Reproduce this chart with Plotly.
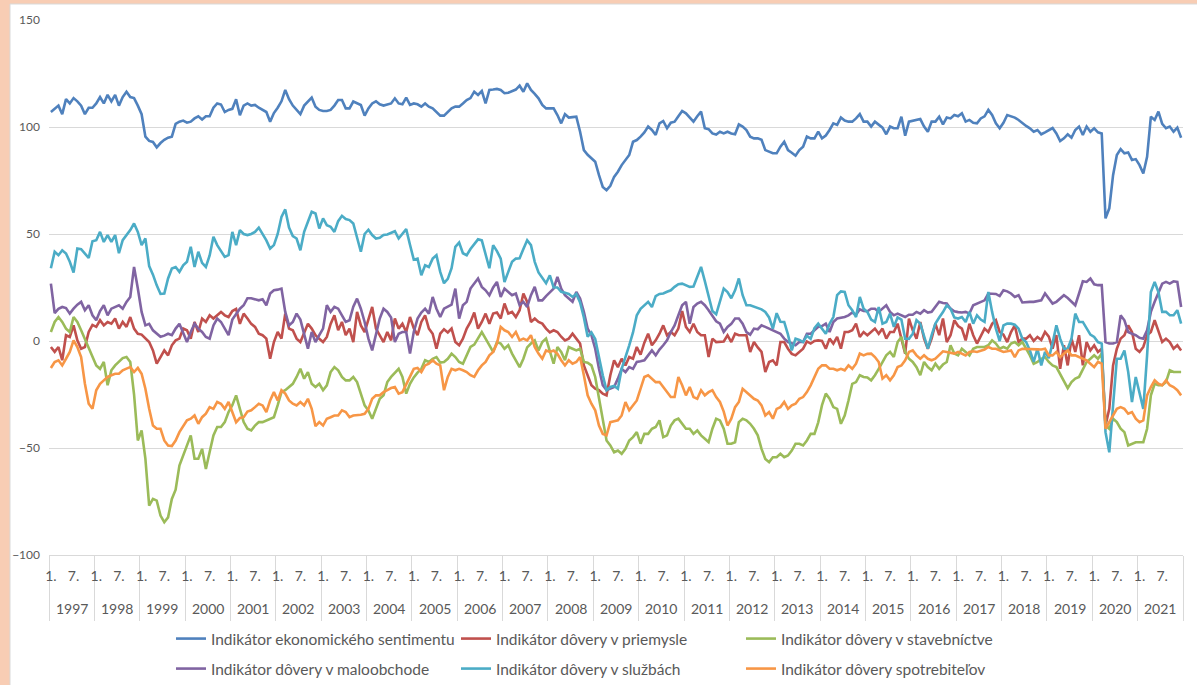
import plotly.graph_objects as go

# ---------------- data (monthly, Jan 1997 - Dec 2021) ----------------
years = list(range(1997, 2022))
month_tick_labels = ["1.", "7."]

series_names = [
    "Indikátor ekonomického sentimentu",
    "Indikátor dôvery v priemysle",
    "Indikátor dôvery v stavebníctve",
    "Indikátor dôvery v maloobchode",
    "Indikátor dôvery v službách",
    "Indikátor dôvery spotrebiteľov",
]

esi = [
    107, 108.5, 110, 106, 113, 111, 113.5, 112, 110, 106, 109, 109,
    111, 114, 111, 115, 112, 115, 110, 114, 116.5, 114, 113.5, 110,
    106, 95.5, 93.5, 93, 90.5, 92.5, 94, 95, 95.5, 101.5, 102.5, 103,
    102, 102.5, 104, 105, 103.5, 105, 105, 109, 111, 110.5, 107, 108,
    108.5, 113, 105.5, 110, 111, 110, 110.3, 109, 108, 107, 102.5, 106.5,
    109, 112, 117.3, 113, 110, 108, 106, 110, 112, 113.7, 109.5, 108,
    107.5, 107.5, 108, 110, 112.6, 112.6, 108.7, 108.7, 111.9, 111, 110.3, 105.3,
    108.7, 111, 112, 110.6, 110, 110.5, 111, 113.4, 111, 110.6, 113.7, 110.3,
    111, 110.6, 109.5, 111, 109.5, 108.7, 107, 105.3, 105.3, 107, 108.7, 109.5,
    109.5, 111, 112.6, 113.5, 116.5, 115, 116.8, 111, 117.3, 117.5, 117.8, 117.3,
    115.8, 116, 116.8, 117.5, 119.3, 116.5, 120.4, 117.3, 115.5, 113.4, 110.3, 108.7,
    108.7, 108.7, 105.6, 101.7, 106, 104.4, 104.6, 104.8, 97.8, 89.2, 87, 85.3,
    83.8, 77.5, 72, 70.5, 72.5, 76.7, 79.1, 82.2, 84.5, 86.9, 93.1, 93.9,
    95.5, 97.5, 100.2, 98.6, 96.3, 101.7, 102.8, 99.4, 102, 102.5, 105, 107.5,
    106.4, 104.4, 102.5, 105, 107.2, 99.4, 99, 97, 96.5, 97.8, 97, 97.8,
    97, 96.6, 101.2, 100.2, 98.6, 95.5, 94.7, 94.7, 94, 89.2, 88.5, 87.7,
    87.7, 90.8, 93.1, 89.2, 88, 86.6, 89.2, 90.8, 95.5, 94.7, 94.7, 97.8,
    94.7, 96, 98.6, 101.7, 101, 104.4, 103, 102.5, 102.5, 104, 106, 102.5,
    102.5, 100.2, 102.5, 101, 99.7, 96.6, 100.2, 99.4, 99.4, 104.8, 95.9, 102.5,
    103, 103.3, 103.7, 100.2, 97.8, 102.5, 102.5, 104.8, 101.2, 104.4, 104, 105.6,
    105, 106.4, 102.5, 103.3, 102, 101.7, 104, 105, 108, 105.6, 101.7, 99.4,
    102, 105.6, 105, 104.4, 103.3, 101.7, 100.5, 99.4, 97.8, 98.6, 96.6, 97.5,
    98.6, 99.5, 97, 93.4, 94.7, 96.6, 95, 98.6, 100.2, 96.3, 100.2, 97.8,
    99.4, 97.5, 97, 57.3, 62, 77.5, 86.9, 89.7, 87.7, 88.1, 84.6, 85,
    82.2, 78.3, 86.1, 104.8, 103.3, 107.2, 101.5, 99.4, 100.2, 97.8, 99.7, 95,
]

industry = [
    -2.8, -5.1, -2.8, -9, 2.7, 1.9, 7.3, 0.3, -3.6, -2.8, 4.2, 7.5,
    6.6, 9.7, 7.3, 8.9, 8.1, 10.5, 5.8, 8.9, 6.6, 11.2, 5.8, 3.4,
    3, 1.1, -0.5, -4.4, -10.6, -7.5, -4.4, -6.7, -2, 0.3, 1.1, 5.8,
    5, 1.1, 8.9, 4.2, 10.5, 8.9, 12, 10.5, 12, 13.6, 12, 11.2,
    14, 15, 8, 12.8, 10.5, 8, 6.6, 3.4, 2.7, 1.1, -8.3, -0.5,
    4.2, 1.1, 12.8, 5.8, 5, 1.1, -0.5, 4.2, 8.1, 5.8, 2.7, 1,
    -0.5, 1.9, 8, 12, 5, 8.9, 2.7, 5.8, -0.5, 13.6, 7.3, 4.2,
    10, 15.9, 5.8, 2.7, -0.5, 4.2, 0.3, 10.5, 5.8, 8.1, 4.2, 11.2,
    6, 2.7, 8.9, 12, 5.8, 3.4, -3.6, 3.4, 5.5, 4, 5.8, -0.5,
    -2, 1.1, 5.8, 8.9, 13.3, 5.8, 8.9, 12.8, 8.1, 12.8, 13.3, 10.5,
    17.5, 12.8, 13.6, 11.2, 14.4, 22.2, 18.3, 8.9, 10.5, 8.9, 8.1, 5.8,
    4, 5, 4.2, 2, 0.3, 1.1, 3.4, 1.1, -1.2, -11.4, -16, -20.7,
    -22.3, -23, -24.6, -25.4, -16, -9, -12.2, -8.3, -11.4, -7.5, -8.3, -2.8,
    -6.4, -0.8, 3.4, -2, 0.3, 3.4, 7.3, 2.7, 4.2, 2.7, 5.8, 14,
    6.6, 4.2, 8.1, 4.2, 2.7, 2.7, -7.5, 1.1, -0.5, -0.5, -0.2, 2.7,
    -0.5, 3.4, 2.7, 2.7, 2.7, -5.1, -0.5, -3, -5.1, -14.5, -9.8, -9,
    -11.4, -0.5, -0.5, -3.6, -6, -6.7, -5.1, -3.6, -0.2, -1.2, 0, 0.3,
    0, -3.6, 1.1, -1.2, 1.9, -3.6, 4.2, 4.2, 5, 8.1, 1.9, 4.2,
    2.7, 4.5, 5.8, 3.4, 5.8, 1.1, 4.2, 4.2, 8.1, 1.1, -5.9, 10.5,
    5, 1.1, 8.9, 1.1, -3.6, 1.1, 8.1, 2.7, 10.5, -0.5, 2.7, 9.7,
    7, 5.8, 0.3, 8.1, 2.7, -1.2, 2.7, 5.8, 4.2, 8, 9.7, 4.2,
    3, -0.5, 4.2, 7.3, -0.5, 1.1, 1.1, 2.7, 0, 1.9, 0.5, 4.2,
    2, -3.6, 2.7, -13, -2, -11.4, 1.1, -5.1, 2.7, -11.4, -0.5, -4.4,
    -2, -5.1, -3.6, -39.5, -31.7, -11.4, -3.6, 1.1, 2.7, 7.3, 4.2, -3.6,
    -5.1, -2.8, 2.7, 4.2, 9.7, 5, -0.5, 1.1, -0.5, -3.6, -2, -4.4,
]

construction = [
    4.2, 8.9, 11.2, 8.9, 5.8, 4.2, 11.2, 8.9, 5, 1.1, -3, -6.7,
    -11.4, -13, -9.8, -20.7, -13.7, -11.4, -9.8, -8, -7.5, -9.8, -25, -46.5,
    -41.8, -55, -76.9, -73.8, -74.6, -81.6, -84.7, -82.4, -73.8, -69.5, -58.2, -53.5,
    -48.8, -44.1, -55, -55, -50.4, -59.8, -51.9, -44.1, -40.2, -40.2, -37.9, -33.2,
    -30, -25.4, -31.7, -37.9, -41, -41.8, -39.5, -37.9, -37.9, -37.1, -36.3, -35.6,
    -30, -23.9, -23, -21.5, -20, -16.8, -13, -17.6, -14.5, -20, -21.5, -20,
    -23, -20.7, -14.5, -12.2, -13.7, -16.8, -18.4, -18.4, -16.8, -19.2, -24.6, -30.1,
    -32.4, -36.3, -31.7, -27, -25.4, -19.2, -16.8, -15, -13, -16.8, -24.6, -20,
    -17, -14.8, -13, -9, -9.8, -8.3, -7.5, -10.1, -9.8, -8.3, -5.9, -7.5,
    -9.8, -10.6, -6.7, -2.8, -1.7, 1.1, 4.2, 1.1, -2, -5.1, -0.5, -1.2,
    -3.6, -2, -5.9, -9, -12.2, -8.3, -3, -1.2, 0.3, -4.4, -0.5, 1.1,
    -4.4, -10.6, -2.8, -5.1, -9, -2.8, -3.6, -4.4, -3.6, -9.8, -10.1, -11.4,
    -16.8, -27, -37.9, -46.5, -48.8, -52, -51.2, -52.7, -50.4, -46.5, -44.9, -42.6,
    -48, -43.4, -43.4, -41, -40.2, -37.1, -44.9, -44.1, -39.5, -37.1, -36.3, -38.7,
    -41, -41, -43.4, -41.8, -44.1, -45.7, -47.3, -41, -36.3, -37.1, -41, -48,
    -48, -47.3, -37.9, -36.3, -37.1, -38.7, -41, -44.1, -50.4, -55.1, -56.6, -54.3,
    -54.3, -52.7, -54.3, -53.5, -51.2, -48, -48, -48.8, -46.5, -43.4, -43.4, -38,
    -30, -24.6, -27, -30.9, -31.7, -38.7, -34.8, -27.8, -20, -19.2, -16, -16.8,
    -17, -18.4, -16, -13, -9.8, -6.7, -5.1, -7.5, -0.5, 1.9, -5.1, -8.3,
    -9.8, -12.2, -16, -9.8, -12.2, -13.7, -10.6, -13, -11, -9.8, -2, -5.9,
    -6.7, -3.6, -5.1, -6.7, -3.6, -2.8, -2.8, -2.8, -2, 0.3, -1.2, -3.6,
    -2.8, -3.6, -1.2, -0.5, -2, -0.5, -3.6, -6.7, -10.6, -9.8, -8.3, -7.5,
    -9.8, -11.4, -12.2, -15.3, -18.4, -22, -19.2, -17.6, -16.8, -13, -9.8, -8.3,
    -6.7, -8.3, -5.9, -39.5, -41, -36.3, -37.9, -41, -42.6, -48.8, -48, -47.3,
    -47.3, -47.3, -41, -25.4, -20, -20.7, -20.7, -19.2, -13.7, -14.5, -14.5, -14.5,
]

retail = [
    26.8, 13, 15, 15.9, 15.4, 12.8, 15.1, 17, 18.3, 14.4, 16.7, 12,
    9.7, 14, 16.7, 12, 15.1, 15.9, 16.7, 15.1, 18.3, 20.6, 34.6, 24.5,
    13.6, 7.3, 8, 5, 3.5, 2, 2.5, 3.4, 2.7, 5.8, 8.1, 3.4,
    -0.5, 4.2, 8.1, 5.8, 4.2, 1.9, 1.1, 7.3, 10.5, 8.9, 5.8, 2.7,
    10, 12.5, 15.1, 16.7, 20, 20, 19.5, 19, 19.5, 16.7, 22.2, 23.7,
    24, 24.5, 13.6, 7.3, 8.9, 12.8, 10, 2.7, -3.6, 4.2, -0.5, 2.7,
    5.8, 16.7, 13.6, 15.9, 15.1, 12, 8.9, 9.7, 16, 19.8, 15.1, 8.9,
    1.1, -4.4, 2.7, 10.5, 15.1, 13.6, 11, -0.5, 3.4, 4.2, 4.2, -5.9,
    4.2, 10.5, 13.3, 15.1, 12.8, 20.6, 15.1, 11.2, 15.1, 16, 17, 24.5,
    10.5, 16.7, 18.3, 24.5, 27, 29.2, 25.3, 23.7, 21.4, 25, 27.6, 20.6,
    24.5, 22.9, 21.4, 22.2, 16.7, 18.3, 15.9, 21.4, 25.3, 19, 19, 21,
    22.9, 24.5, 30, 24.5, 21.4, 19.8, 18.3, 22.9, 19.8, 13.6, 5.8, 2.7,
    -3.6, -13, -20.7, -23, -22.3, -21.5, -17.6, -13, -14.5, -12.2, -13, -9.8,
    -9.5, -9, -6.7, -4.4, -6.7, -4, -2, 0.3, 4.2, 7.3, 12, 16.7,
    18.3, 8.1, 15.9, 17.5, 18.3, 16.7, 14.4, 12, 9.2, 8.1, 4.2, 6.6,
    8, 10.5, 10.5, 8.1, 4.2, 3, 5.8, 5.5, 7.3, 6.6, 5.8, 5,
    4.2, 3.4, 1.1, -0.5, -1, -2, -0.5, -0.5, 3.4, 3.4, 5, 6.6,
    7, 8.1, 4.2, 8.9, 10.5, 10.8, 11.2, 12, 13.3, 12.3, 14.8, 14,
    13.9, 15.1, 15.1, 13.6, 15.1, 16.7, 13.6, 12, 12.8, 12, 11.2, 12.3,
    12.3, 13.6, 12.8, 14.4, 13.3, 13.6, 15.9, 18.3, 17.8, 17.5, 15.1, 13.9,
    13.5, 13.3, 13.6, 12.8, 16.7, 17.5, 18.5, 19, 22.2, 22.2, 22, 21,
    23.7, 23.2, 22.2, 20.6, 21.4, 18, 18.3, 18.3, 18.3, 18.6, 19, 22.2,
    19.8, 17.5, 18.3, 19.8, 21.4, 20.1, 18.3, 16.7, 22.2, 27.9, 27.6, 29.2,
    26.5, 26.1, 26.1, -0.5, -1.2, -1.2, -0.5, 12, 9.7, 4.2, 3.4, 2.7,
    1.5, 1.1, 5, 13.6, 18.3, 22.2, 26.8, 27.6, 26.8, 27.9, 27.6, 15.9,
]

services = [
    34, 41.7, 40.1, 42.4, 40.9, 37, 32, 43.2, 42.9, 40.9, 38.8, 46.6,
    47.1, 51, 46.3, 49.5, 46.3, 49.5, 41, 47.1, 49.5, 51.8, 54.9, 51,
    44.8, 47.9, 35, 31, 26, 22, 22.2, 29.2, 33.9, 34.6, 32.3, 35.4,
    37, 44, 34.6, 41.7, 36.5, 34.6, 40, 48.7, 44.8, 41.7, 39.3, 40.1,
    51, 44.8, 51.8, 50, 49.5, 50, 51, 53, 50.2, 47, 43.2, 44.8,
    50, 58, 61.5, 53, 49, 47.9, 42.4, 51, 55.7, 60.4, 59.6, 52.6,
    57.3, 54.1, 53.4, 51, 56, 58.5, 57, 56.5, 54.9, 48, 41.7, 50,
    52, 49.5, 47.9, 48.2, 49.5, 49.8, 50.7, 51.3, 47.9, 50, 52.3, 45,
    38, 38.5, 30.7, 35.4, 34.6, 38.5, 40.1, 32.3, 27, 29, 34, 44,
    46, 41, 40.1, 43, 45, 47.5, 47, 40, 34, 44.8, 42, 38.5,
    27.6, 32.3, 37, 38.5, 38.7, 43, 47.1, 44.8, 37, 32, 29.2, 27,
    30.7, 25, 25, 23, 22.5, 22, 20.6, 22, 18, 11, 2, 4,
    1, -8, -16, -23, -21.5, -21, -22.3, -13, -8, -2, 4, 12,
    15, 16.7, 18.3, 15.9, 21, 22, 22.2, 23, 23.7, 25.3, 26.5, 26.8,
    26, 25.3, 25.5, 30, 34.6, 28, 21.5, 14, 12.5, 18, 24.5, 22.9,
    20, 23.7, 29.2, 21.4, 16.7, 16.7, 16, 15.5, 14.8, 13.6, 11, 5.8,
    13, 9, 8.9, 3, -4.4, 1.1, 0.5, -0.5, 2.5, 1, 6, 8.1,
    6, 3.4, 8, 11.2, 21.4, 23.2, 22.9, 16.7, 14.4, 11.2, 20.6, 15.1,
    13.6, 10, 8.9, 15.9, 8.1, 8.9, 12.8, 6.6, 11, 10, 1.1, 1,
    3.4, 9.7, 8.1, 2.7, -3.6, 2.7, 8.1, 11, 13.5, 16.7, 15.1, 11,
    10.5, 11.2, 8.9, 13.6, 8.1, 12, 10, 8.9, 22.9, 13.6, 5.8, 0,
    7.3, 8.1, 8.1, 7.6, 5.8, 1.1, -0.5, -4.4, -9.8, -3.6, -11.4, -5.1,
    -8, -1, 7.3, 1.1, -3.6, -3.6, 1.1, 12.8, 8.9, 8.9, 6, 3,
    1.9, -0.5, -1.2, -42.6, -52, -31.7, -8.3, -8.3, -4.4, -14.4, -28.5, -16.8,
    -23.9, -31.7, -6.7, 22.9, 27.6, 22.9, 13.6, 13.6, 12, 12, 14.4, 8.1,
]

consumers = [
    -12.6, -9.8, -9, -11.4, -8.3, -5.1, 0.3, -2.8, -7.5, -20, -29.3, -31.7,
    -23, -20, -18.4, -16.8, -16, -15.3, -15.3, -13.7, -12.9, -12.2, -14.5, -12.6,
    -15.3, -22.3, -31.7, -39.5, -41, -41, -46.5, -48.8, -49.1, -46.5, -42.6, -39.5,
    -37.1, -36.3, -34.8, -38.7, -35.6, -34, -30.9, -31.7, -28.5, -29.3, -31.7, -28.5,
    -33, -38, -36, -35.6, -33, -32.4, -30.9, -29.3, -30.1, -33.2, -27.8, -23.9,
    -27.8, -23, -24.6, -27.8, -29.3, -30.1, -28.5, -30.1, -27, -31.7, -39.8, -37.9,
    -39.5, -36.3, -35.6, -34.8, -34.8, -32.4, -33.2, -35.6, -34.8, -34.8, -34.5, -34,
    -31.7, -27, -25.4, -25.4, -23.9, -23, -22, -21.5, -24.6, -23.9, -20, -16.8,
    -13, -12.6, -14.5, -11.4, -10.6, -9, -10.6, -11.4, -23, -16.8, -13, -13.7,
    -13, -13.7, -14.5, -16, -16.8, -13.7, -11.4, -9.8, -6.7, -5.1, -1.2, 6.6,
    5, 4.2, 1.9, 4.2, 0.3, 1.1, 0.3, 2.7, -2.8, -5.9, -8.3, -4.4,
    -5.1, -4.4, -6, -9, -11.4, -9, -10.6, -9.8, -7.5, -16, -25.4, -29.3,
    -32.4, -39.5, -43.4, -44.1, -37.9, -37.5, -37.1, -34.8, -28.5, -32.4, -30.1, -27.8,
    -22.3, -16.8, -16, -17.6, -19.2, -19.2, -21.5, -23.9, -26.2, -26.2, -16.8, -20.7,
    -25.4, -21.5, -26.2, -27, -23, -25.4, -23.9, -23, -26.2, -28.5, -33, -39.5,
    -36.3, -30.9, -28.5, -22.3, -23.9, -25.4, -27, -27.8, -30.1, -34.8, -33.2, -36.3,
    -31.7, -30.9, -28.5, -31.7, -30.1, -29.3, -27, -26.2, -23.9, -20.7, -16.8, -13,
    -11.4, -11.4, -13, -13, -13.7, -13, -13.7, -11.4, -13, -10.6, -5.9, -6.7,
    -6, -5.9, -7.5, -9.8, -17.6, -16, -18.4, -16, -12.2, -11.4, -9, -5.1,
    -4.4, -6.7, -8.3, -6.7, -8.3, -9, -8.3, -6.7, -4.8, -5.1, -5.5, -5.9,
    -5.1, -5.9, -6.7, -5.1, -4.8, -5.1, -4.4, -4, -2.8, -3.6, -3.6, -4.4,
    -5.1, -4.8, -4.4, -7.5, -4.4, -3.6, -3.6, -3.6, -3.6, -3.9, -4, -3.6,
    -6.7, -6.7, -5.1, -7.5, -5.9, -4.4, -6.7, -6.7, -7.5, -8.3, -9, -10.6,
    -12.2, -9.8, -10.6, -41, -37.9, -34.8, -31.7, -30.9, -31.7, -34, -33.2, -36.3,
    -37.9, -37.1, -25.4, -21.5, -18.4, -20, -20.7, -18.4, -20.7, -21.5, -23, -25.4,
]

colors = ["#4F81BD", "#C0504D", "#9BBB59", "#8064A2", "#4BACC6", "#F79646"]

# ---------------- figure ----------------
W, H = 1197, 685
ML, MR, MT, MB = 49, 14, 20, 130
PW, PH = W - ML - MR, H - MT - MB
FONT = "Lato"
GRAY = "#595959"
GRID = "#D9D9D9"
PEACH = "#F8CDB4"


def px_x(px):
    return (px - ML) / PW


def px_y(py):
    return (H - MB - py) / PH


n = len(esi)
xs = list(range(n))
all_series = [esi, industry, construction, retail, services, consumers]

fig = go.Figure()
for k, (name, vals, col) in enumerate(zip(series_names, all_series, colors)):
    fig.add_trace(go.Scatter(
        x=xs, y=vals, mode="lines", name=name,
        line=dict(color=col, width=2.6),
        legend="legend" if k < 3 else "legend2",
    ))

tickvals, ticktext = [], []
for k, _ in enumerate(years):
    tickvals += [12 * k, 12 * k + 6]
    ticktext += month_tick_labels

fig.update_xaxes(
    range=[-0.5, n - 0.5],
    tickmode="array", tickvals=tickvals, ticktext=ticktext,
    ticks="", showgrid=False, zeroline=False,
    showline=True, linecolor=GRID, linewidth=1,
    tickfont=dict(family=FONT, size=14, color=GRAY),
    ticklabelstandoff=8,
    minor=dict(tickmode="array", tickvals=[12 * k - 0.5 for k in range(len(years) + 1)],
               ticks="outside", ticklen=65, tickcolor=GRID, tickwidth=1, showgrid=False),
)
fig.update_yaxes(
    range=[-100, 150], tickmode="array", tickvals=[-100, -50, 0, 50, 100, 150],
    showgrid=True, gridcolor=GRID, gridwidth=1, zeroline=False, ticks="",
    tickfont=dict(family=FONT, size=12, color=GRAY), ticklabelstandoff=8,
)

for k, yr in enumerate(years):
    fig.add_annotation(x=12 * k + 5.5, xref="x", y=px_y(608), yref="paper",
                       text=str(yr), showarrow=False, yanchor="middle",
                       font=dict(family=FONT, size=14, color=GRAY))

# white chart box on peach background
fig.add_shape(type="rect", xref="paper", yref="paper",
              x0=px_x(10), x1=px_x(W + 5), y0=px_y(H + 5), y1=px_y(4),
              fillcolor="white", line=dict(color=GRID, width=1), layer="below")

legend_common = dict(orientation="h", xanchor="left", yanchor="middle",
                     entrywidth=240, entrywidthmode="pixels",
                     bgcolor="rgba(0,0,0,0)",
                     font=dict(family=FONT, size=15.5, color=GRAY))

fig.update_layout(
    width=W, height=H,
    margin=dict(l=ML, r=MR, t=MT, b=MB, autoexpand=False),
    paper_bgcolor=PEACH, plot_bgcolor="white",
    showlegend=True,
    legend=dict(x=px_x(171), y=px_y(639), **legend_common),
    legend2=dict(x=px_x(171), y=px_y(669), **legend_common),
)

fig.write_html(
    "out.html",
    config={"displayModeBar": False},
    post_script="document.body.style.margin='0';document.body.style.background='%s';" % PEACH,
)
